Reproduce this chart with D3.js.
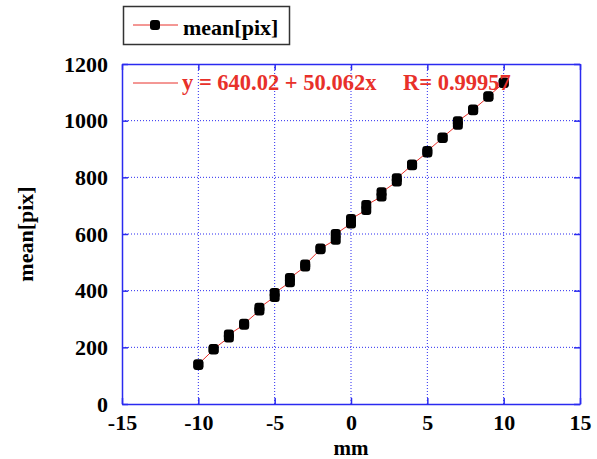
<!DOCTYPE html>
<html>
<head>
<meta charset="utf-8">
<script src="https://cdn.jsdelivr.net/npm/d3@7/dist/d3.min.js"></script>
<style>
    body { margin: 0; background: #fff; }
    svg text { font-family: "Liberation Serif", "Times New Roman", serif; font-weight: bold; }
</style>
</head>
<body>
<div id="chart"></div>
<script>
// positions in mm, two measurements per position
var mm = [-10, -9, -8, -7, -6, -5, -4, -3, -2, -1, 0, 1, 2, 3, 4, 5, 6, 7, 8, 9, 10];
var pixA = [138, 192, 235, 280, 330, 378, 430, 485, 546, 580, 637, 685, 732, 785, 843, 888, 939, 986, 1037, 1084, 1133];
var pixB = [140, 194, 245, 283, 340, 392, 445, 492, 549, 600, 653, 702, 747, 797, 845, 893, 941, 998, 1039, 1086, 1135];
var xTicks = [-15, -10, -5, 0, 5, 10, 15];
var yTicks = [0, 200, 400, 600, 800, 1000, 1200];
var seriesName = 'mean[pix]';
var fitText = 'y = 640.02 + 50.062x';
var fitR = 'R= 0.99957';

var width = 597, height = 459;
var margin = {top: 64, bottom: 55, left: 122, right: 17};
var blue = '#2a2af0';
var red = '#e8302a';

var svg = d3.select('#chart')
    .append('svg')
    .attr('width', width)
    .attr('height', height);

var x = d3.scaleLinear()
    .domain([-15, 15])
    .range([margin.left, width - margin.right]);

var y = d3.scaleLinear()
    .domain([0, 1200])
    .range([height - margin.bottom, margin.top]);

var points = [];
mm.forEach(function(d, i) {
    points.push({mm: d, pix: pixA[i]});
    points.push({mm: d, pix: pixB[i]});
});

// grid
var grid = svg.append('g');
grid.selectAll('line.gx')
    .data(xTicks.slice(1, -1))
    .enter().append('line')
    .attr('x1', function(d){ return x(d); })
    .attr('x2', function(d){ return x(d); })
    .attr('y1', y(0))
    .attr('y2', y(1200))
    .attr('stroke', blue)
    .attr('stroke-dasharray', '1,2');
grid.selectAll('line.gy')
    .data(yTicks.slice(1, -1))
    .enter().append('line')
    .attr('y1', function(d){ return y(d); })
    .attr('y2', function(d){ return y(d); })
    .attr('x1', x(-15))
    .attr('x2', x(15))
    .attr('stroke', blue)
    .attr('stroke-dasharray', '1,2');

// axes (ticks inside on all four sides)
var plain = function(d){ return String(d); };
function styleAxis(g) {
    g.select('.domain').attr('stroke', blue).attr('stroke-width', 1.5);
    g.selectAll('.tick line').attr('stroke', blue).attr('stroke-width', 1.5);
    g.selectAll('text').attr('fill', '#000').style('font-size', '22px');
}
var xAxis = d3.axisBottom(x).tickValues(xTicks).tickFormat(plain)
    .tickSizeInner(-6).tickSizeOuter(0).tickPadding(10);
svg.append('g')
    .attr('transform', 'translate(0 ' + y(0) + ')')
    .call(xAxis)
    .call(styleAxis);
svg.append('g')
    .attr('transform', 'translate(0 ' + y(1200) + ')')
    .call(d3.axisTop(x).tickValues(xTicks).tickSizeInner(-6).tickSizeOuter(0).tickFormat(''))
    .call(styleAxis);
var yAxis = d3.axisLeft(y).tickValues(yTicks).tickFormat(plain)
    .tickSizeInner(-6).tickSizeOuter(0).tickPadding(14);
svg.append('g')
    .attr('transform', 'translate(' + x(-15) + ' 0)')
    .call(yAxis)
    .call(styleAxis);
svg.append('g')
    .attr('transform', 'translate(' + x(15) + ' 0)')
    .call(d3.axisRight(y).tickValues(yTicks).tickSizeInner(-6).tickSizeOuter(0).tickFormat(''))
    .call(styleAxis);

// axis titles
svg.append('text')
    .attr('x', x(0))
    .attr('y', 454.5)
    .attr('text-anchor', 'middle')
    .style('font-size', '21px')
    .text('mm');
svg.append('text')
    .attr('transform', 'translate(33 ' + ((y(0) + y(1200)) / 2) + ') rotate(-90)')
    .attr('text-anchor', 'middle')
    .style('font-size', '22px')
    .text(seriesName);

// data line + markers
var line = d3.line()
    .x(function(d){ return x(d.mm); })
    .y(function(d){ return y(d.pix); });
svg.append('path')
    .datum(points)
    .attr('d', line)
    .attr('fill', 'none')
    .attr('stroke', red)
    .attr('stroke-width', 1);
svg.selectAll('rect.pt')
    .data(points)
    .enter().append('rect')
    .attr('class', 'pt')
    .attr('x', function(d){ return x(d.mm) - 5; })
    .attr('y', function(d){ return y(d.pix) - 5; })
    .attr('width', 10)
    .attr('height', 10)
    .attr('rx', 3)
    .attr('fill', '#000');

// fit annotation
svg.append('line')
    .attr('x1', 133).attr('x2', 178)
    .attr('y1', 83).attr('y2', 83)
    .attr('stroke', red);
svg.append('text')
    .attr('x', 182).attr('y', 90)
    .attr('fill', red)
    .style('font-size', '22.5px')
    .text(fitText);
svg.append('text')
    .attr('x', 403).attr('y', 90)
    .attr('fill', red)
    .style('font-size', '22.5px')
    .text(fitR);

// legend
var legend = svg.append('g');
legend.append('rect')
    .attr('x', 123.5).attr('y', 6.5)
    .attr('width', 166).attr('height', 38)
    .attr('fill', '#fff')
    .attr('stroke', '#333')
    .attr('stroke-width', 1.5);
legend.append('line')
    .attr('x1', 133).attr('x2', 178)
    .attr('y1', 25).attr('y2', 25)
    .attr('stroke', red);
legend.append('rect')
    .attr('x', 150).attr('y', 20)
    .attr('width', 10).attr('height', 10)
    .attr('rx', 3)
    .attr('fill', '#000');
legend.append('text')
    .attr('x', 183).attr('y', 35)
    .style('font-size', '22px')
    .text(seriesName);
</script>
</body>
</html>
